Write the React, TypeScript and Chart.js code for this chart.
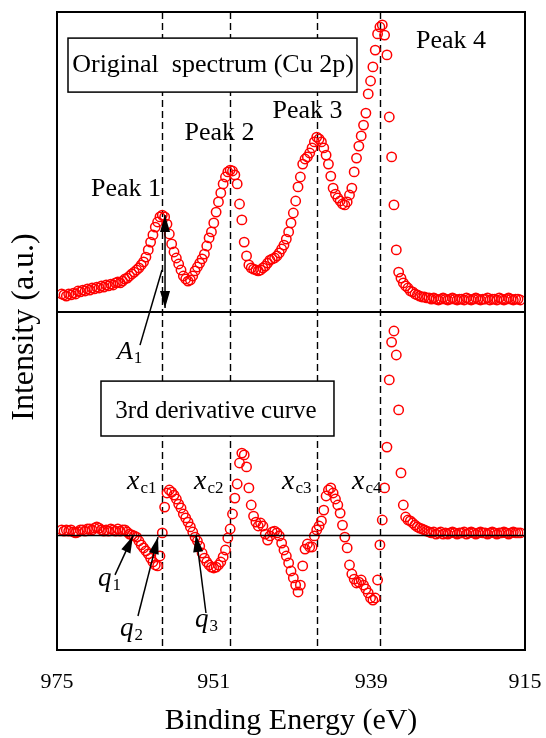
import { useEffect, useRef } from 'react';
import { Chart, registerables } from 'chart.js';

Chart.register(...registerables);

// Binding energy grid (eV)
const energy = [
  974.4, 974.1, 973.8, 973.5, 973.2, 972.9, 972.6, 972.3, 972.0, 971.7,
  971.4, 971.1, 970.8, 970.5, 970.2, 969.9, 969.6, 969.3, 969.0, 968.7,
  968.4, 968.1, 967.8, 967.5, 967.2, 966.9, 966.6, 966.3, 966.0, 965.7,
  965.4, 965.1, 964.8, 964.5, 964.2, 963.9, 963.6, 963.3, 963.0, 962.7,
  962.4, 962.1, 961.8, 961.5, 961.2, 960.9, 960.6, 960.3, 960.0, 959.7,
  959.4, 959.1, 958.8, 958.5, 958.2, 957.9, 957.6, 957.3, 957.0, 956.7,
  956.4, 956.1, 955.8, 955.5, 955.2, 954.9, 954.6, 954.3, 954.0, 953.7,
  953.4, 953.1, 952.8, 952.5, 952.2, 951.9, 951.6, 951.3, 951.0, 950.7,
  950.4, 950.1, 949.8, 949.5, 949.2, 948.9, 948.6, 948.3, 948.0, 947.7,
  947.4, 947.1, 946.8, 946.5, 946.2, 945.9, 945.6, 945.3, 945.0, 944.7,
  944.4, 944.1, 943.8, 943.5, 943.2, 942.9, 942.6, 942.3, 942.0, 941.7,
  941.4, 941.1, 940.8, 940.5, 940.2, 939.9, 939.6, 939.3, 939.0, 938.7,
  938.4, 938.1, 937.8, 937.5, 937.2, 936.9, 936.6, 936.3, 936.0, 935.7,
  935.4, 935.1, 934.8, 934.5, 934.2, 933.9, 933.6, 933.3, 933.0, 932.7,
  932.4, 932.1, 931.8, 931.5, 931.2, 930.9, 930.6, 930.3, 930.0, 929.7,
  929.4, 929.1, 928.8, 928.5, 928.2, 927.9, 927.6, 927.3, 927.0, 926.7,
  926.4, 926.1, 925.8, 925.5, 925.2, 924.9, 924.6, 924.3, 924.0, 923.7,
  923.4, 923.1, 922.8, 922.5, 922.2, 921.9, 921.6, 921.3, 921.0, 920.7,
  920.4, 920.1, 919.8, 919.5, 919.2, 918.9, 918.6, 918.3, 918.0, 917.7,
  917.4, 917.1, 916.8, 916.5, 916.2, 915.9, 915.6,
];

// Original Cu 2p spectrum (a.u.)
const spectrum = [
  6.0, 5.7, 5.3, 6.0, 5.7, 6.3, 6.0, 7.0, 6.7, 7.3,
  7.0, 7.7, 7.3, 8.0, 7.7, 8.3, 8.0, 8.7, 8.3, 9.0,
  8.7, 9.3, 9.0, 9.7, 10.0, 9.7, 10.3, 11.0, 11.3, 12.0,
  12.7, 13.3, 14.0, 14.7, 15.7, 16.7, 18.3, 20.7, 23.3, 25.7,
  28.3, 30.0, 31.7, 32.3, 31.7, 29.3, 26.0, 22.7, 20.0, 18.0,
  16.0, 14.0, 12.0, 11.0, 10.3, 10.7, 12.0, 13.7, 15.0, 16.3,
  17.7, 19.3, 22.0, 24.7, 26.7, 29.7, 33.3, 36.7, 39.7, 42.7,
  45.0, 46.7, 47.3, 47.0, 45.7, 42.7, 36.0, 30.7, 23.3, 18.7,
  15.7, 14.7, 14.3, 14.0, 13.7, 14.0, 14.7, 15.3, 16.3, 17.3,
  17.7, 18.0, 18.7, 19.7, 21.0, 22.3, 24.3, 26.7, 29.7, 33.0,
  37.0, 41.7, 45.0, 49.3, 51.0, 51.7, 53.0, 54.7, 56.7, 58.3,
  57.7, 56.7, 54.7, 52.3, 49.3, 45.3, 41.3, 39.3, 38.0, 37.0,
  36.0, 35.7, 36.7, 39.0, 41.3, 46.7, 51.3, 55.3, 58.7, 62.3,
  66.3, 72.7, 77.0, 81.7, 87.3, 92.7, 95.0, 95.7, 92.3, 85.7,
  65.0, 51.7, 35.7, 20.7, 13.3, 11.3, 9.7, 8.7, 8.0, 7.0,
  6.7, 6.0, 5.7, 5.3, 5.0, 5.0, 4.7, 4.7, 4.3, 4.7,
  4.3, 4.0, 4.3, 4.7, 4.3, 4.0, 4.3, 4.7, 4.3, 4.0,
  4.3, 4.3, 4.0, 4.7, 4.3, 4.0, 4.3, 4.7, 4.3, 4.0,
  4.3, 4.3, 4.7, 4.0, 4.3, 4.3, 4.0, 4.7, 4.3, 4.0,
  4.3, 4.7, 4.3, 4.0, 4.3, 4.3, 4.0,
];

// 3rd derivative curve (a.u.)
const derivative = [
  1.7, 1.3, 1.7, 1.3, 1.7, 1.0, 0.7, 1.0, 1.7, 1.7,
  1.3, 2.0, 2.0, 1.7, 2.3, 2.7, 2.3, 1.7, 1.3, 1.7,
  1.3, 2.0, 1.7, 1.3, 2.0, 1.3, 1.7, 1.7, 1.0, 0.3,
  0.0, -0.3, -0.7, -2.0, -3.3, -4.3, -5.3, -6.3, -7.7, -9.0,
  -10.0, -10.3, -7.0, 0.7, 9.3, 14.0, 15.0, 14.3, 13.3, 12.0,
  10.3, 9.0, 7.0, 5.7, 4.3, 2.7, 1.0, -0.7, -2.0, -3.7,
  -6.0, -7.7, -9.0, -10.0, -10.7, -11.0, -10.7, -10.0, -9.0, -7.3,
  -5.0, -1.0, 2.0, 7.0, 12.3, 17.0, 24.0, 27.3, 26.7, 22.7,
  15.7, 10.0, 6.3, 4.3, 3.0, 4.0, 3.0, 0.3, -1.7, -0.3,
  1.0, 1.3, 0.7, -0.3, -2.7, -5.0, -7.0, -9.3, -12.0, -14.3,
  -16.7, -19.0, -16.7, -10.3, -4.7, -3.0, -4.0, -4.0, -0.3, 1.7,
  3.0, 4.7, 8.3, 13.0, 15.0, 15.7, 14.0, 12.0, 10.0, 7.3,
  3.3, -0.7, -4.3, -10.0, -13.0, -14.7, -16.0, -15.7, -15.0, -16.7,
  -18.0, -19.3, -21.0, -21.7, -21.0, -15.0, -3.3, 5.0, 15.7, 29.3,
  51.7, 64.3, 68.0, 60.0, 41.7, 20.7, 10.0, 6.0, 5.0, 4.7,
  4.0, 3.3, 2.7, 2.3, 2.0, 1.7, 1.3, 1.0, 0.7, 1.0,
  0.3, 0.7, 1.0, 0.3, 0.7, 0.3, 0.7, 1.0, 0.7, 0.3,
  0.7, 0.7, 1.0, 0.3, 0.7, 1.0, 0.7, 0.3, 0.7, 1.0,
  0.7, 0.7, 0.3, 0.7, 1.0, 0.7, 0.3, 0.7, 0.7, 1.0,
  0.7, 0.3, 0.7, 1.0, 0.7, 0.7, 0.7,
];

// Axis tick values / labels
const xTickValues = [975, 954.9, 934.7, 915];
const xTickLabels = ['975', '951', '939', '915'];

// Peak centre energies (dashed lines)
const peakCentres = [961.55, 952.8, 941.7, 933.55];

const SERIF = "'Liberation Serif', 'Times New Roman', serif";

type AxisId = 'yTop' | 'yBot';

const peakLabels: { text: string; x: number; y: number; axis: AxisId }[] = [
  { text: 'Peak 1', x: 966.15, y: 38.7, axis: 'yTop' },
  { text: 'Peak 2', x: 954.17, y: 57.3, axis: 'yTop' },
  { text: 'Peak 3', x: 942.88, y: 64.7, axis: 'yTop' },
  { text: 'Peak 4', x: 924.49, y: 88.0, axis: 'yTop' },
];

const boxLabels = [
  { text: 'Original  spectrum (Cu 2p)', size: 26, axis: 'yTop' as AxisId, x0: 973.59, x1: 936.54, y0: 91.3, y1: 73.3, tx: 955.0, ty: 80.0 },
  { text: '3rd derivative curve', size: 25, axis: 'yBot' as AxisId, x0: 969.36, x1: 939.49, y0: 51.3, y1: 33.0, tx: 954.62, ty: 39.0 },
];

const mathLabels: { main: string; sub: string; x: number; y: number; size: number; subSize: number }[] = [
  { main: 'A', sub: '1', x: 967.31, y: 58.7, size: 26, subSize: 17 },
  { main: 'x', sub: 'c1', x: 966.03, y: 15.3, size: 28, subSize: 17 },
  { main: 'x', sub: 'c2', x: 957.44, y: 15.3, size: 28, subSize: 17 },
  { main: 'x', sub: 'c3', x: 946.15, y: 15.3, size: 28, subSize: 17 },
  { main: 'x', sub: 'c4', x: 937.18, y: 15.3, size: 28, subSize: 17 },
  { main: 'q', sub: '1', x: 969.74, y: -17.0, size: 27, subSize: 17 },
  { main: 'q', sub: '2', x: 966.92, y: -33.7, size: 27, subSize: 17 },
  { main: 'q', sub: '3', x: 957.31, y: -30.7, size: 27, subSize: 17 },
];

type P = { x: number; y: number; axis: AxisId };
const arrows: { from: P; to: P; headFrom: boolean; headTo: boolean }[] = [
  { from: { x: 961.15, y: 1.3, axis: 'yTop' }, to: { x: 961.15, y: 32.3, axis: 'yTop' }, headFrom: true, headTo: true },
  { from: { x: 964.36, y: 63.3, axis: 'yBot' }, to: { x: 961.54, y: 14.0, axis: 'yTop' }, headFrom: false, headTo: false },
  { from: { x: 967.56, y: -13.3, axis: 'yBot' }, to: { x: 965.26, y: -0.3, axis: 'yBot' }, headFrom: false, headTo: true },
  { from: { x: 964.62, y: -27.0, axis: 'yBot' }, to: { x: 962.05, y: -0.7, axis: 'yBot' }, headFrom: false, headTo: true },
  { from: { x: 955.9, y: -26.0, axis: 'yBot' }, to: { x: 957.18, y: 0.0, axis: 'yBot' }, headFrom: false, headTo: true },
];

function drawHead(ctx: CanvasRenderingContext2D, tx: number, ty: number, fx: number, fy: number) {
  const len = 17;
  const half = 5;
  const dx = tx - fx;
  const dy = ty - fy;
  const d = Math.hypot(dx, dy) || 1;
  const ux = dx / d;
  const uy = dy / d;
  const bx = tx - ux * len;
  const by = ty - uy * len;
  ctx.beginPath();
  ctx.moveTo(tx, ty);
  ctx.lineTo(bx - uy * half, by + ux * half);
  ctx.lineTo(bx + uy * half, by - ux * half);
  ctx.closePath();
  ctx.fill();
}

const annotationPlugin = {
  id: 'xpsAnnotations',
  beforeDatasetsDraw(chart: any) {
    const { ctx, chartArea, scales } = chart;
    ctx.save();
    ctx.strokeStyle = '#000';
    ctx.lineWidth = 1.4;
    ctx.setLineDash([7, 4]);
    peakCentres.forEach((e) => {
      const px = Math.round(scales.x.getPixelForValue(e)) + 0.5;
      ctx.beginPath();
      ctx.moveTo(px, chartArea.top);
      ctx.lineTo(px, chartArea.bottom);
      ctx.stroke();
    });
    ctx.restore();
  },
  afterDatasetsDraw(chart: any) {
    const { ctx, chartArea, scales } = chart;
    const X = (v: number) => scales.x.getPixelForValue(v);
    const Y = (axis: AxisId, v: number) => scales[axis].getPixelForValue(v);
    ctx.save();
    ctx.fillStyle = '#000';
    ctx.strokeStyle = '#000';

    // zero line of derivative panel
    const zy = Math.round(Y('yBot', 0)) + 0.5;
    ctx.lineWidth = 1.5;
    ctx.beginPath();
    ctx.moveTo(chartArea.left, zy);
    ctx.lineTo(chartArea.right, zy);
    ctx.stroke();

    // boxed labels
    boxLabels.forEach((b) => {
      const x0 = X(b.x0);
      const x1 = X(b.x1);
      const y0 = Y(b.axis, b.y0);
      const y1 = Y(b.axis, b.y1);
      ctx.fillStyle = '#fff';
      ctx.fillRect(x0, y0, x1 - x0, y1 - y0);
      ctx.lineWidth = 1.5;
      ctx.strokeRect(x0, y0, x1 - x0, y1 - y0);
      ctx.fillStyle = '#000';
      ctx.font = `${b.size}px ${SERIF}`;
      ctx.textAlign = 'center';
      ctx.textBaseline = 'alphabetic';
      ctx.fillText(b.text, X(b.tx), Y(b.axis, b.ty));
    });

    // peak labels
    ctx.font = `26px ${SERIF}`;
    ctx.textAlign = 'center';
    ctx.textBaseline = 'alphabetic';
    peakLabels.forEach((p) => ctx.fillText(p.text, X(p.x), Y(p.axis, p.y)));

    // italic labels with subscripts
    ctx.textAlign = 'left';
    mathLabels.forEach((m) => {
      const px = X(m.x);
      const py = Y('yBot', m.y);
      ctx.font = `italic ${m.size}px ${SERIF}`;
      ctx.fillText(m.main, px, py);
      const w = ctx.measureText(m.main).width;
      ctx.font = `${m.subSize}px ${SERIF}`;
      ctx.fillText(m.sub, px + w + 1, py + 4);
    });

    // arrows
    ctx.lineWidth = 1.5;
    arrows.forEach((a) => {
      const fx = X(a.from.x);
      const fy = Y(a.from.axis, a.from.y);
      const tx = X(a.to.x);
      const ty = Y(a.to.axis, a.to.y);
      ctx.beginPath();
      ctx.moveTo(fx, fy);
      ctx.lineTo(tx, ty);
      ctx.stroke();
      if (a.headTo) drawHead(ctx, tx, ty, fx, fy);
      if (a.headFrom) drawHead(ctx, fx, fy, tx, ty);
    });

    // frame and panel divider
    ctx.lineWidth = 2;
    ctx.strokeRect(chartArea.left, chartArea.top, chartArea.right - chartArea.left, chartArea.bottom - chartArea.top);
    const dy = Math.round(scales.yTop.bottom);
    ctx.beginPath();
    ctx.moveTo(chartArea.left, dy);
    ctx.lineTo(chartArea.right, dy);
    ctx.stroke();

    // y-axis title
    ctx.save();
    ctx.translate(25, (chartArea.top + chartArea.bottom) / 2 - 4);
    ctx.rotate(-Math.PI / 2);
    ctx.font = `32px ${SERIF}`;
    ctx.textAlign = 'center';
    ctx.textBaseline = 'middle';
    ctx.fillText('Intensity (a.u.)', 0, 0);
    ctx.restore();

    ctx.restore();
  },
};

export default function App() {
  const ref = useRef<HTMLCanvasElement>(null);
  useEffect(() => {
    const canvas = ref.current;
    if (!canvas) return;
    const pointStyle = {
      showLine: false,
      pointStyle: 'circle' as const,
      pointRadius: 4.7,
      pointBorderWidth: 1.5,
      pointBorderColor: '#ff0000',
      pointBackgroundColor: 'rgba(0,0,0,0)',
      borderColor: '#ff0000',
      backgroundColor: 'rgba(0,0,0,0)',
    };
    const chart = new Chart(canvas, {
      type: 'scatter',
      data: {
        datasets: [
          { label: 'Original spectrum', data: energy.map((e, i) => ({ x: e, y: spectrum[i] })), yAxisID: 'yTop', ...pointStyle },
          { label: '3rd derivative', data: energy.map((e, i) => ({ x: e, y: derivative[i] })), yAxisID: 'yBot', ...pointStyle },
        ],
      },
      options: {
        animation: false,
        responsive: false,
        devicePixelRatio: 1,
        layout: { padding: { left: 57, right: 21, top: 12, bottom: 0 } },
        plugins: { legend: { display: false }, tooltip: { enabled: false } },
        scales: {
          x: {
            type: 'linear',
            position: 'bottom',
            min: 915,
            max: 975,
            reverse: true,
            afterBuildTicks: (s: any) => {
              s.ticks = xTickValues.map((v) => ({ value: v }));
            },
            grid: { display: false, drawTicks: false },
            border: { display: false },
            ticks: {
              autoSkip: false,
              maxRotation: 0,
              padding: 0,
              color: '#000',
              font: { family: SERIF, size: 22, lineHeight: '64px' },
              callback: (_v: any, i: number) => xTickLabels[i],
            },
            title: {
              display: true,
              text: 'Binding Energy (eV)',
              color: '#000',
              font: { family: SERIF, size: 30, lineHeight: 1 },
              padding: { top: -8, bottom: 2 },
            },
          },
          yBot: { type: 'linear', position: 'left', stack: 'panels', stackWeight: 338, min: -38.33, max: 74.33, display: false },
          yTop: { type: 'linear', position: 'left', stack: 'panels', stackWeight: 300, min: 0, max: 100, display: false },
        },
      } as any,
      plugins: [annotationPlugin],
    });
    return () => chart.destroy();
  }, []);
  return (
    <div style={{ position: 'absolute', left: 0, top: 0, width: 546, height: 738, background: '#fff' }}>
      <canvas ref={ref} width={546} height={738} style={{ width: 546, height: 738, display: 'block' }} />
    </div>
  );
}
